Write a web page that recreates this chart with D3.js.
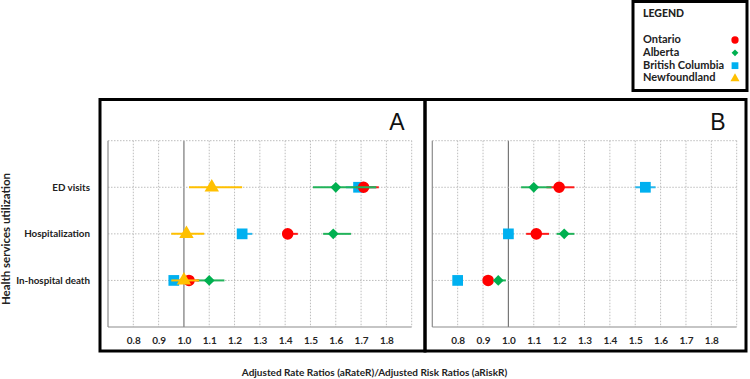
<!DOCTYPE html>
<html>
<head>
<meta charset="utf-8">
<script src="https://cdn.jsdelivr.net/npm/d3@7"></script>
<style>
  body { margin: 0; background: #fff; }
  svg { font-family: Lato, "Open Sans", sans-serif; }
</style>
</head>
<body>
<svg id="chart" width="750" height="379"></svg>
<script>
// categories / ticks
const categories = ["ED visits", "Hospitalization", "In-hospital death"];
const tickValues = [0.8, 0.9, 1.0, 1.1, 1.2, 1.3, 1.4, 1.5, 1.6, 1.7, 1.8];

// Panel A - adjusted rate ratios (estimate, lower, upper) per category
const rateOntario = [1.71, 1.41, 1.02];
const rateOntarioLo = [1.68, 1.40, 1.00];
const rateOntarioHi = [1.77, 1.45, 1.06];
const rateAlberta = [1.60, 1.59, 1.10];
const rateAlbertaLo = [1.51, 1.55, 1.05];
const rateAlbertaHi = [1.76, 1.66, 1.16];
const rateBC = [1.69, 1.23, 0.96];
const rateBCLo = [1.64, 1.21, 0.95];
const rateBCHi = [1.76, 1.27, 1.00];
const rateNL = [1.11, 1.01, 1.00];
const rateNLLo = [1.02, 0.95, 0.95];
const rateNLHi = [1.23, 1.08, 1.06];

// Panel B - adjusted risk ratios
const riskOntario = [1.20, 1.11, 0.92];
const riskOntarioLo = [1.15, 1.07, 0.90];
const riskOntarioHi = [1.26, 1.16, 0.94];
const riskAlberta = [1.10, 1.22, 0.96];
const riskAlbertaLo = [1.05, 1.19, 0.95];
const riskAlbertaHi = [1.17, 1.26, 0.99];
const riskBC = [1.54, 1.00, 0.80];
const riskBCLo = [1.50, 0.99, 0.79];
const riskBCHi = [1.58, 1.02, 0.82];

const colors = { on: "#ff0000", ab: "#00b050", bc: "#00b0f0", nl: "#ffc000" };
const lineColors = { on: "#ff1a1a", ab: "#22b35a", bc: "#27b8ee", nl: "#ffc000" };
const shapes = { on: d3.symbolCircle, ab: d3.symbolSquare, bc: d3.symbolSquare, nl: d3.symbolTriangle };
const sizes = { on: 105, ab: 58, bc: 115, nl: 90 };
const rotation = { on: 0, ab: 45, bc: 0, nl: 0 };

const panels = [
  { label: "A", box: [100, 425], plot: [108, 411.7], series: [
    { key: "bc", est: rateBC, lo: rateBCLo, hi: rateBCHi },
    { key: "on", est: rateOntario, lo: rateOntarioLo, hi: rateOntarioHi },
    { key: "ab", est: rateAlberta, lo: rateAlbertaLo, hi: rateAlbertaHi },
    { key: "nl", est: rateNL, lo: rateNLLo, hi: rateNLHi }
  ]},
  { label: "B", box: [425, 746], plot: [432.3, 736.7], series: [
    { key: "bc", est: riskBC, lo: riskBCLo, hi: riskBCHi },
    { key: "on", est: riskOntario, lo: riskOntarioLo, hi: riskOntarioHi },
    { key: "ab", est: riskAlberta, lo: riskAlbertaLo, hi: riskAlbertaHi }
  ]}
];

const svg = d3.select("#chart");
const plotTop = 140.7, plotBottom = 327, boxTop = 99.5, boxBottom = 351;

const y = d3.scaleLinear().domain([0, categories.length + 1]).range([plotTop, plotBottom]);

panels.forEach(p => {
  const x = d3.scaleLinear().domain([0.7, 1.9]).range(p.plot);
  const g = svg.append("g");

  // vertical grid
  g.selectAll(".vgrid")
    .data(tickValues.concat([1.9]))
    .enter().append("line")
    .attr("x1", d => x(d)).attr("x2", d => x(d))
    .attr("y1", plotTop).attr("y2", plotBottom)
    .attr("stroke", d => Math.abs(d - 1) < 1e-9 ? "#777" : "#bdbdbd")
    .attr("stroke-width", d => Math.abs(d - 1) < 1e-9 ? 1.2 : 1)
    .attr("stroke-dasharray", d => Math.abs(d - 1) < 1e-9 ? null : "1.5,1.5");

  // horizontal grid
  g.selectAll(".hgrid")
    .data([0, 1, 2, 3])
    .enter().append("line")
    .attr("x1", p.plot[0]).attr("x2", p.plot[1])
    .attr("y1", d => y(d)).attr("y2", d => y(d))
    .attr("stroke", "#bdbdbd")
    .attr("stroke-dasharray", "1.5,1.5");

  // axis lines
  g.append("line")
    .attr("x1", p.plot[0]).attr("x2", p.plot[0])
    .attr("y1", plotTop).attr("y2", plotBottom)
    .attr("stroke", "#8c8c8c").attr("stroke-width", 1.2);
  g.append("line")
    .attr("x1", p.plot[0]).attr("x2", p.plot[1])
    .attr("y1", plotBottom).attr("y2", plotBottom)
    .attr("stroke", "#8c8c8c").attr("stroke-width", 1.2);

  // tick labels
  const ax = g.append("g")
    .attr("transform", `translate(0,${plotBottom + 7})`)
    .call(d3.axisBottom(x).tickValues(tickValues).tickSize(0).tickFormat(d3.format(".1f")));
  ax.select(".domain").remove();
  ax.selectAll("text")
    .attr("font-family", "Lato, sans-serif")
    .attr("font-size", 10).attr("font-weight", 700).attr("fill", "#262626");

  // series: CI lines + markers
  p.series.forEach(s => {
    const rows = s.est.map((v, i) => ({ v, lo: s.lo[i], hi: s.hi[i], i }));
    g.selectAll(null).data(rows).enter().append("line")
      .attr("x1", d => x(d.lo)).attr("x2", d => x(d.hi))
      .attr("y1", d => y(d.i + 1)).attr("y2", d => y(d.i + 1))
      .attr("stroke", lineColors[s.key]).attr("stroke-width", 2);
    g.selectAll(null).data(rows).enter().append("path")
      .attr("d", d3.symbol().type(shapes[s.key]).size(sizes[s.key]))
      .attr("transform", d => `translate(${x(d.v)},${y(d.i + 1)}) rotate(${rotation[s.key]})`)
      .attr("fill", colors[s.key]);
  });

  // panel letter
  g.append("text")
    .attr("x", p.box[1] - 28).attr("y", 129.5)
    .attr("text-anchor", "middle")
    .attr("font-size", 23).attr("font-family", "'Liberation Sans', Arial, sans-serif")
    .attr("fill", "#111")
    .text(p.label);

  // panel box
  g.append("rect")
    .attr("x", p.box[0]).attr("y", boxTop)
    .attr("width", p.box[1] - p.box[0]).attr("height", boxBottom - boxTop)
    .attr("fill", "none").attr("stroke", "#000").attr("stroke-width", 3);
});

// category labels
svg.selectAll(".cat")
  .data(categories)
  .enter().append("text")
  .attr("x", 90).attr("y", (d, i) => y(i + 1))
  .attr("dy", "0.35em")
  .attr("text-anchor", "end")
  .attr("font-size", 9.8).attr("font-weight", 700).attr("fill", "#222")
  .text(d => d);

// y title
svg.append("text")
  .attr("transform", "translate(6,239) rotate(-90)")
  .attr("text-anchor", "middle")
  .attr("dy", "0.35em")
  .attr("font-size", 11.5).attr("font-weight", 700).attr("fill", "#222")
  .text("Health services utilization");

// x title
svg.append("text")
  .attr("x", 374.5).attr("y", 375.5)
  .attr("text-anchor", "middle")
  .attr("font-size", 10).attr("font-weight", 700).attr("fill", "#222")
  .text("Adjusted Rate Ratios (aRateR)/Adjusted Risk Ratios (aRiskR)");

// legend
const legendItems = [
  { name: "Ontario", key: "on" },
  { name: "Alberta", key: "ab" },
  { name: "British Columbia", key: "bc" },
  { name: "Newfoundland", key: "nl" }
];
const lg = svg.append("g");
lg.append("rect")
  .attr("x", 633).attr("y", 1.5).attr("width", 114).attr("height", 89)
  .attr("fill", "#fff").attr("stroke", "#000").attr("stroke-width", 3);
lg.append("text")
  .attr("x", 643).attr("y", 16.5)
  .attr("font-size", 10.5).attr("font-weight", 900).attr("fill", "#222")
  .text("LEGEND");
const ly = d3.scaleLinear().domain([0, 3]).range([39, 77.5]);
lg.selectAll(".li").data(legendItems).enter().append("text")
  .attr("x", 643).attr("y", (d, i) => ly(i))
  .attr("dy", "0.35em")
  .attr("font-size", 11).attr("font-weight", 700).attr("fill", "#222")
  .text(d => d.name);
lg.selectAll(".lm").data(legendItems).enter().append("path")
  .attr("d", d => d3.symbol().type(shapes[d.key]).size(sizes[d.key] * 0.4)())
  .attr("transform", (d, i) => `translate(735,${ly(i) + 1}) rotate(${rotation[d.key]})`)
  .attr("fill", d => colors[d.key]);
</script>
</body>
</html>
